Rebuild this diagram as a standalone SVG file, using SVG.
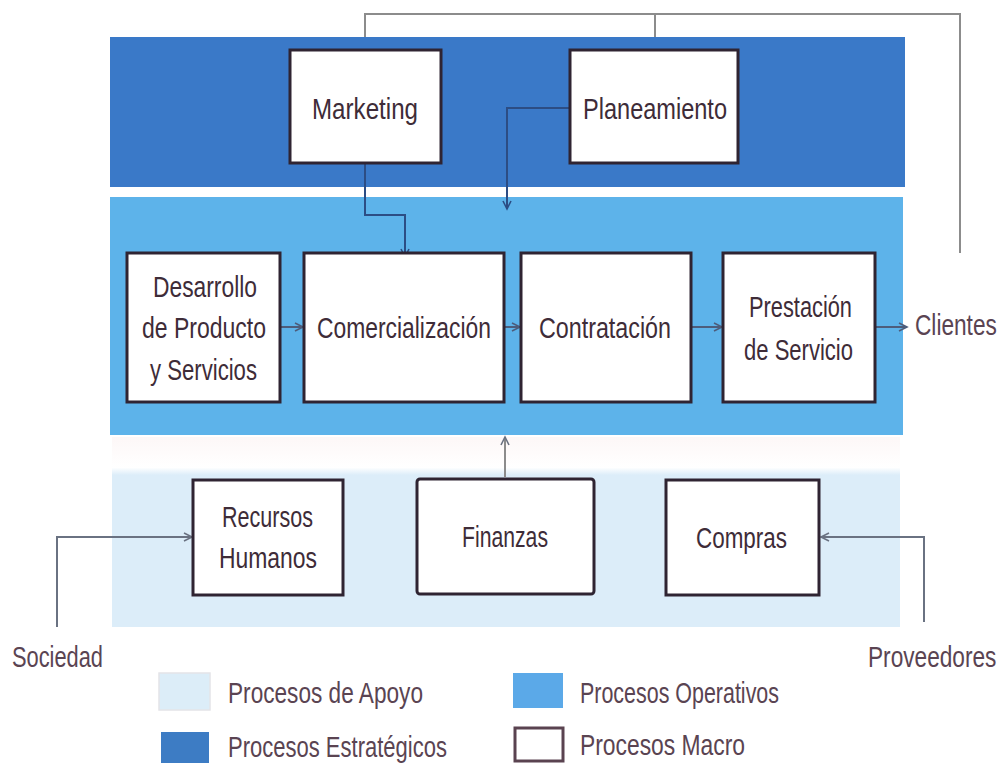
<svg xmlns="http://www.w3.org/2000/svg" width="1004" height="764" viewBox="0 0 1004 764">
<defs>
<style>
.box{fill:#ffffff;stroke:#2f2432;stroke-width:3}
.t{font-family:"Liberation Sans",Arial,sans-serif;font-size:30px;fill:#3e2c38}
.o{font-family:"Liberation Sans",Arial,sans-serif;font-size:30px;fill:#5a4452}
.conn{fill:none;stroke-width:2}
.gray{stroke:#8c8c8c}
.navy{stroke:#2c4d84}
.slate{stroke:#4d5d7c}
.side{stroke:#6a7282}
</style>
<linearGradient id="fade" x1="0" y1="0" x2="0" y2="1">
<stop offset="0" stop-color="#fdf7f7"/>
<stop offset="0.16" stop-color="#ffffff"/>
<stop offset="0.2" stop-color="#dcedf9"/>
<stop offset="1" stop-color="#dcedf9"/>
</linearGradient>
<marker id="arrN" markerUnits="userSpaceOnUse" markerWidth="12" markerHeight="12" refX="9" refY="5" orient="auto">
<path d="M1,1 L9,5 L1,9" fill="none" stroke="#2c4d84" stroke-width="1.6"/>
</marker>
<marker id="arrS" markerUnits="userSpaceOnUse" markerWidth="12" markerHeight="12" refX="9" refY="5" orient="auto">
<path d="M1,1 L9,5 L1,9" fill="none" stroke="#4d5d7c" stroke-width="1.6"/>
</marker>
<marker id="arrG" markerUnits="userSpaceOnUse" markerWidth="12" markerHeight="12" refX="9" refY="5" orient="auto">
<path d="M1,1 L9,5 L1,9" fill="none" stroke="#6a7282" stroke-width="1.6"/>
</marker>
</defs>
<rect width="1004" height="764" fill="#ffffff"/>

<g id="bands">
<rect x="110" y="37" width="795" height="150" fill="#3a79c8"/>
<rect x="110" y="197" width="793" height="238" fill="#5db3ea"/>
<rect x="112" y="437" width="788" height="190" fill="url(#fade)"/>
</g>

<g id="connectors">
<path class="conn gray" d="M365,37 V14 H960 V253"/>
<path class="conn gray" d="M655,14 V37"/>
<path class="conn navy" d="M365,163 V215 H405 V257" marker-end="url(#arrN)"/>
<path class="conn navy" d="M570,108 H507 V209" marker-end="url(#arrN)"/>
<path class="conn slate" d="M280,327 H303" marker-end="url(#arrS)"/>
<path class="conn slate" d="M504,327 H520" marker-end="url(#arrS)"/>
<path class="conn slate" d="M691,327 H722" marker-end="url(#arrS)"/>
<path class="conn slate" d="M875,327 H907" marker-end="url(#arrS)"/>
<path class="conn gray" d="M505,477 V437" marker-end="url(#arrG)"/>
<path class="conn side" d="M57,627 V537 H192" marker-end="url(#arrG)"/>
<path class="conn side" d="M924,622 V537 H821" marker-end="url(#arrG)"/>
</g>

<g id="marketing">
<rect class="box" x="290" y="50" width="151" height="113"/>
<text class="t" x="312" y="119" textLength="106" lengthAdjust="spacingAndGlyphs">Marketing</text>
</g>
<g id="planeamiento">
<rect class="box" x="570" y="50" width="168" height="113"/>
<text class="t" x="583" y="119" textLength="144" lengthAdjust="spacingAndGlyphs">Planeamiento</text>
</g>

<g id="desarrollo">
<rect class="box" x="127" y="253" width="153" height="149"/>
<text class="t" x="153" y="297" textLength="104" lengthAdjust="spacingAndGlyphs">Desarrollo</text>
<text class="t" x="142" y="338" textLength="124" lengthAdjust="spacingAndGlyphs">de Producto</text>
<text class="t" x="150" y="380" textLength="107" lengthAdjust="spacingAndGlyphs">y Servicios</text>
</g>
<g id="comercializacion">
<rect class="box" x="304" y="253" width="200" height="149"/>
<text class="t" x="317" y="338" textLength="174" lengthAdjust="spacingAndGlyphs">Comercialización</text>
</g>
<g id="contratacion">
<rect class="box" x="521" y="253" width="170" height="149"/>
<text class="t" x="539" y="338" textLength="132" lengthAdjust="spacingAndGlyphs">Contratación</text>
</g>
<g id="prestacion">
<rect class="box" x="723" y="253" width="152" height="149"/>
<text class="t" x="749" y="317" textLength="103" lengthAdjust="spacingAndGlyphs">Prestación</text>
<text class="t" x="744" y="360" textLength="109" lengthAdjust="spacingAndGlyphs">de Servicio</text>
</g>
<g id="clientes">
<text class="o" transform="translate(915,335) scale(0.755,1)" x="0" y="0">Clientes</text>
</g>

<g id="recursos">
<rect class="box" x="193" y="480" width="150" height="115"/>
<text class="t" x="222" y="527" textLength="91" lengthAdjust="spacingAndGlyphs">Recursos</text>
<text class="t" x="219" y="568" textLength="98" lengthAdjust="spacingAndGlyphs">Humanos</text>
</g>
<g id="finanzas">
<rect class="box" x="417" y="479" width="177" height="115" rx="3"/>
<text class="t" x="462" y="547" textLength="86" lengthAdjust="spacingAndGlyphs">Finanzas</text>
</g>
<g id="compras">
<rect class="box" x="666" y="480" width="153" height="115"/>
<text class="t" x="696" y="548" textLength="91" lengthAdjust="spacingAndGlyphs">Compras</text>
</g>

<g id="sociedad">
<text class="o" x="12" y="667" textLength="91" lengthAdjust="spacingAndGlyphs">Sociedad</text>
</g>
<g id="proveedores">
<text class="o" transform="translate(868,667) scale(0.755,1)" x="0" y="0">Proveedores</text>
</g>

<g id="legend">
<rect x="159" y="673" width="51" height="37" fill="#dcedf8" stroke="#e4e4e8" stroke-width="1.5"/>
<text class="o" x="228" y="703" textLength="195" lengthAdjust="spacingAndGlyphs">Procesos de Apoyo</text>
<rect x="513" y="673" width="50" height="35" fill="#5ba9e8"/>
<text class="o" x="580" y="703" textLength="199" lengthAdjust="spacingAndGlyphs">Procesos Operativos</text>
<rect x="161" y="732" width="48" height="31" fill="#3d7cc4"/>
<text class="o" x="228" y="757" textLength="219" lengthAdjust="spacingAndGlyphs">Procesos Estratégicos</text>
<rect x="515" y="728" width="48" height="33" fill="#ffffff" stroke="#5a4350" stroke-width="3"/>
<text class="o" x="580" y="755" textLength="165" lengthAdjust="spacingAndGlyphs">Procesos Macro</text>
</g>
</svg>
